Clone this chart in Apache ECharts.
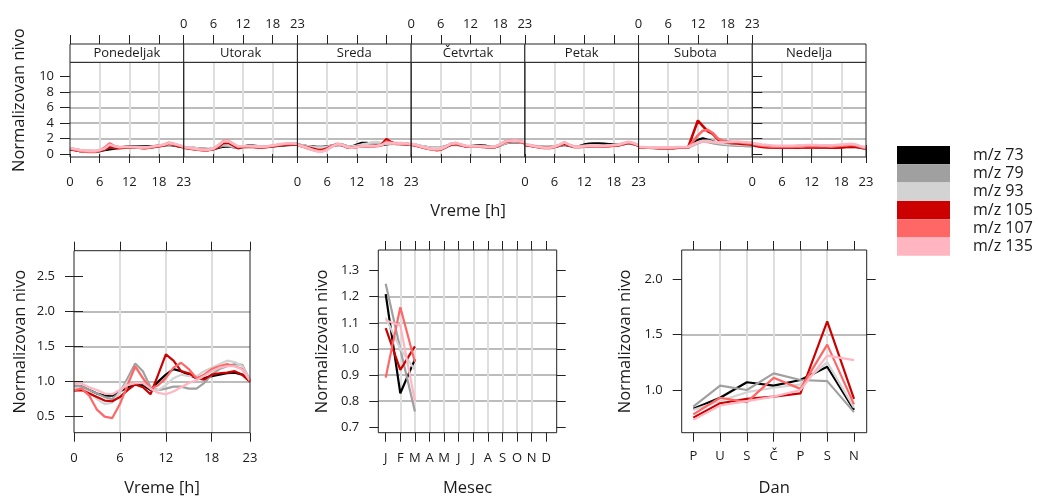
<!DOCTYPE html>
<html><head><meta charset="utf-8">
<script src="https://cdn.jsdelivr.net/npm/echarts@6/dist/echarts.min.js"></script>
<style>html,body{margin:0;padding:0;background:#fff}#c{width:1037px;height:498px}</style>
</head><body><div id="c"></div><script>
// ---------------- DATA ----------------
const seriesNames = ['m/z 73','m/z 79','m/z 93','m/z 105','m/z 107','m/z 135'];
const dayNames = ['Ponedeljak','Utorak','Sreda','Četvrtak','Petak','Subota','Nedelja'];
const hourTicks = [0,6,12,18,23];
const topYTicks = [0,2,4,6,8,10];
const hourYTicks = [0.5,1.0,1.5,2.0,2.5];
const monthLabels = ['J','F','M','A','M','J','J','A','S','O','N','D'];
const monthYTicks = [0.7,0.8,0.9,1.0,1.1,1.2,1.3];
const dayLetters = ['P','U','S','Č','P','S','N'];
const dayYTicks = [1.0,1.5,2.0];

// week x hour (7 days x 24 hours)
const weekHour_mz73 = [
 0.6,0.5,0.4,0.35,0.3,0.3,0.4,0.5,0.6,0.7,0.8,0.9,0.95,1.0,1.0,1.0,0.95,1.0,1.05,1.1,1.2,1.1,1.0,0.9,
 0.85,0.8,0.75,0.7,0.65,0.6,0.65,0.8,0.95,1.0,0.9,0.85,0.95,1.05,1.05,1.0,0.95,0.95,1.0,1.05,1.1,1.15,1.2,1.2,
 1.2,1.1,1.0,0.95,0.9,0.9,0.95,1.05,1.15,1.2,1.0,0.95,1.2,1.4,1.4,1.3,1.2,1.15,1.25,1.35,1.35,1.3,1.3,1.2,
 1.25,1.15,1.0,0.9,0.8,0.75,0.8,1.0,1.2,1.25,1.15,1.0,1.0,1.05,1.1,1.05,0.9,0.9,1.1,1.4,1.5,1.55,1.5,1.4,
 1.2,1.1,1.0,0.95,0.9,0.9,0.95,1.05,1.2,1.05,0.95,1.0,1.2,1.3,1.35,1.35,1.3,1.25,1.2,1.2,1.3,1.4,1.3,1.1,
 0.85,0.85,0.8,0.8,0.8,0.8,0.8,0.8,0.8,0.8,0.85,1.3,1.8,2.0,1.8,1.6,1.45,1.35,1.3,1.25,1.2,1.2,1.15,1.1,
 1.2,1.1,1.0,0.95,0.9,0.9,0.9,0.9,0.85,0.85,0.85,0.9,0.9,0.9,0.85,0.85,0.85,0.9,0.9,0.95,1.0,0.95,0.8,0.75];
const weekHour_mz79 = [
 0.7,0.6,0.5,0.45,0.4,0.35,0.45,0.6,0.9,0.8,0.8,0.85,0.85,0.9,0.9,0.85,0.85,0.9,1.0,1.1,1.2,1.15,1.05,0.9,
 0.9,0.8,0.75,0.7,0.65,0.6,0.7,0.9,1.1,1.05,0.9,0.85,0.9,0.95,0.95,0.9,0.9,0.95,1.0,1.1,1.15,1.2,1.25,1.25,
 1.2,1.1,1.0,0.9,0.85,0.85,0.9,1.05,1.2,1.2,1.0,0.9,1.0,1.1,1.2,1.3,1.4,1.35,1.3,1.3,1.35,1.35,1.3,1.2,
 1.25,1.15,1.0,0.9,0.8,0.75,0.8,0.95,1.15,1.2,1.1,1.0,0.95,0.95,0.95,0.9,0.85,0.9,1.1,1.35,1.5,1.55,1.5,1.4,
 1.2,1.1,1.0,0.95,0.9,0.85,0.95,1.05,1.25,1.1,0.95,0.95,1.0,1.05,1.05,1.05,1.0,1.05,1.1,1.15,1.3,1.4,1.3,1.1,
 0.8,0.8,0.8,0.75,0.75,0.75,0.75,0.75,0.8,0.8,0.8,1.1,1.4,1.6,1.55,1.4,1.3,1.2,1.15,1.1,1.05,1.05,1.0,1.0,
 1.15,1.05,1.0,0.95,0.9,0.85,0.85,0.85,0.8,0.8,0.8,0.8,0.8,0.8,0.8,0.8,0.8,0.85,0.85,0.9,0.95,0.9,0.8,0.7];
const weekHour_mz93 = [
 0.75,0.6,0.5,0.45,0.4,0.4,0.5,0.7,1.0,0.85,0.8,0.85,0.9,0.9,0.9,0.9,0.85,0.9,1.0,1.1,1.25,1.2,1.1,0.95,
 0.9,0.85,0.8,0.7,0.65,0.65,0.75,1.0,1.3,1.2,1.0,0.9,0.95,1.0,1.0,1.0,0.95,1.0,1.05,1.15,1.2,1.25,1.3,1.3,
 1.2,1.1,1.0,0.9,0.8,0.8,0.9,1.05,1.25,1.2,1.0,0.95,1.05,1.2,1.3,1.5,1.55,1.4,1.35,1.4,1.45,1.4,1.35,1.25,
 1.3,1.2,1.05,0.9,0.8,0.75,0.8,1.0,1.25,1.3,1.2,1.05,1.0,1.0,1.0,0.95,0.9,0.95,1.15,1.45,1.6,1.65,1.55,1.45,
 1.25,1.15,1.05,0.95,0.9,0.85,0.95,1.1,1.35,1.15,1.0,1.0,1.05,1.1,1.1,1.1,1.05,1.1,1.15,1.2,1.35,1.45,1.35,1.15,
 0.85,0.85,0.8,0.8,0.8,0.8,0.8,0.8,0.8,0.85,0.85,1.2,1.5,1.7,1.7,1.55,1.45,1.35,1.3,1.25,1.2,1.2,1.15,1.15,
 1.25,1.15,1.05,1.0,0.95,0.95,0.95,0.95,0.95,0.95,0.95,1.0,1.0,1.0,1.0,1.0,1.0,1.0,1.05,1.1,1.1,1.05,0.9,0.8];
const weekHour_mz105 = [
 0.6,0.5,0.4,0.35,0.3,0.3,0.4,0.6,0.9,0.8,0.75,0.8,0.85,0.85,0.8,0.75,0.8,0.9,1.0,1.1,1.3,1.2,1.0,0.85,
 0.8,0.7,0.6,0.55,0.5,0.5,0.6,0.9,1.4,1.45,1.1,0.75,0.9,0.95,0.9,0.85,0.85,0.9,1.0,1.05,1.15,1.2,1.2,1.2,
 1.15,1.0,0.85,0.7,0.55,0.5,0.7,1.0,1.25,1.15,0.85,0.8,0.9,1.0,1.0,1.0,1.05,1.2,1.9,1.5,1.3,1.3,1.25,1.15,
 1.2,1.05,0.9,0.75,0.6,0.5,0.55,0.85,1.2,1.3,1.15,1.0,0.95,0.95,0.95,0.9,0.85,0.9,1.2,1.55,1.65,1.7,1.6,1.4,
 1.15,1.05,0.95,0.85,0.8,0.8,0.9,1.1,1.35,1.1,0.9,0.9,0.95,1.0,1.0,1.0,1.0,1.0,1.05,1.1,1.3,1.45,1.3,1.05,
 0.8,0.8,0.8,0.8,0.75,0.75,0.75,0.75,0.8,0.8,0.8,2.55,4.3,3.6,2.9,2.6,1.9,1.6,1.45,1.4,1.35,1.3,1.25,1.2,
 1.15,1.0,0.9,0.85,0.85,0.8,0.8,0.8,0.8,0.8,0.85,0.85,0.85,0.85,0.85,0.85,0.8,0.8,0.85,0.9,0.95,0.9,0.8,0.7];
const weekHour_mz107 = [
 0.7,0.55,0.4,0.3,0.25,0.25,0.45,0.8,1.35,1.0,0.85,0.9,0.9,0.85,0.8,0.75,0.8,0.95,1.05,1.2,1.45,1.3,1.1,0.9,
 0.85,0.75,0.65,0.55,0.5,0.5,0.65,1.1,1.65,1.7,1.3,0.9,1.0,1.0,0.95,0.9,0.9,0.95,1.05,1.15,1.25,1.3,1.3,1.3,
 1.15,0.95,0.75,0.55,0.4,0.35,0.6,1.0,1.3,1.2,0.85,0.8,0.9,1.0,1.0,0.95,1.0,1.1,1.6,1.4,1.3,1.35,1.3,1.2,
 1.25,1.1,0.9,0.75,0.6,0.55,0.6,0.9,1.3,1.4,1.2,1.0,0.95,0.95,0.95,0.9,0.85,0.9,1.2,1.6,1.7,1.75,1.65,1.45,
 1.2,1.1,0.95,0.85,0.75,0.75,0.9,1.15,1.5,1.15,0.9,0.9,0.95,1.0,1.0,1.0,1.0,1.05,1.1,1.15,1.35,1.55,1.35,1.1,
 0.85,0.85,0.85,0.8,0.8,0.8,0.8,0.8,0.85,0.85,0.85,1.6,2.4,3.0,3.1,2.7,2.0,1.7,1.6,1.55,1.5,1.45,1.4,1.35,
 1.3,1.15,1.05,1.0,0.95,0.9,0.9,0.9,0.9,0.95,0.95,1.0,1.0,1.0,1.0,1.0,0.95,1.0,1.05,1.1,1.2,1.1,0.9,0.75];
const weekHour_mz135 = [
 0.75,0.65,0.5,0.45,0.4,0.4,0.5,0.7,1.2,1.0,0.9,0.9,0.9,0.9,0.85,0.85,0.9,1.0,1.1,1.2,1.4,1.3,1.15,0.95,
 0.9,0.8,0.7,0.6,0.55,0.55,0.7,1.1,1.6,1.65,1.3,1.0,1.0,1.0,1.0,0.95,0.95,1.0,1.1,1.2,1.3,1.35,1.35,1.3,
 1.2,1.0,0.8,0.55,0.35,0.3,0.55,0.95,1.25,1.2,0.9,0.8,0.9,1.0,1.05,1.0,1.05,1.15,1.45,1.4,1.35,1.4,1.35,1.25,
 1.3,1.15,0.95,0.8,0.65,0.6,0.65,0.95,1.3,1.4,1.25,1.05,1.0,1.0,1.0,0.95,0.9,0.95,1.25,1.6,1.7,1.75,1.65,1.5,
 1.25,1.15,1.0,0.9,0.8,0.8,0.95,1.2,1.5,1.2,0.95,0.95,1.0,1.05,1.05,1.05,1.05,1.1,1.15,1.2,1.4,1.55,1.4,1.15,
 0.9,0.9,0.85,0.85,0.85,0.85,0.85,0.85,0.9,0.9,0.9,1.2,1.5,1.6,1.6,1.55,1.5,1.5,1.5,1.55,1.6,1.55,1.5,1.45,
 1.4,1.3,1.2,1.15,1.1,1.05,1.05,1.05,1.05,1.1,1.1,1.15,1.15,1.15,1.1,1.1,1.1,1.15,1.2,1.25,1.3,1.2,1.0,0.85];

// hour of day (0..23)
const hour_mz73  = [0.93,0.93,0.88,0.83,0.80,0.80,0.86,0.92,0.96,0.95,0.88,1.00,1.10,1.18,1.15,1.10,1.05,1.05,1.08,1.10,1.12,1.13,1.10,1.00];
const hour_mz79  = [0.95,0.93,0.88,0.83,0.78,0.75,0.85,1.05,1.26,1.15,0.92,0.88,0.90,0.93,0.93,0.90,0.90,0.98,1.10,1.18,1.22,1.25,1.24,1.02];
const hour_mz93  = [0.92,0.90,0.85,0.75,0.68,0.70,0.85,1.00,1.20,1.05,0.90,0.88,0.95,1.05,1.10,1.08,1.08,1.15,1.20,1.25,1.30,1.28,1.22,1.02];
const hour_mz105 = [0.87,0.88,0.83,0.78,0.73,0.72,0.78,0.88,0.96,0.92,0.82,1.10,1.39,1.30,1.15,1.12,1.05,1.03,1.10,1.12,1.13,1.15,1.10,1.00];
const hour_mz107 = [0.88,0.90,0.80,0.60,0.50,0.48,0.68,0.95,1.22,1.05,0.90,0.95,1.05,1.20,1.27,1.18,1.05,1.10,1.18,1.22,1.25,1.22,1.18,1.00];
const hour_mz135 = [0.97,0.97,0.92,0.88,0.83,0.82,0.88,0.95,0.98,0.98,0.90,0.84,0.82,0.86,0.92,0.98,1.02,1.08,1.15,1.20,1.22,1.22,1.17,1.02];

// month (J, F, M)
const month_mz73  = [1.21,0.83,0.96];
const month_mz79  = [1.25,1.00,0.76];
const month_mz93  = [1.12,1.00,0.92];
const month_mz105 = [1.08,0.92,1.01];
const month_mz107 = [0.89,1.16,0.95];
const month_mz135 = [1.11,1.09,0.80];

// weekday (P U S Č P S N)
const weekday_mz73  = [0.83,0.93,1.07,1.04,1.09,1.21,0.82];
const weekday_mz79  = [0.85,1.04,1.00,1.15,1.09,1.08,0.80];
const weekday_mz93  = [0.82,0.90,0.98,1.02,1.05,1.25,0.84];
const weekday_mz105 = [0.75,0.88,0.92,0.94,0.97,1.62,0.92];
const weekday_mz107 = [0.78,0.93,0.89,1.11,1.01,1.41,0.87];
const weekday_mz135 = [0.73,0.86,0.90,0.94,1.00,1.31,1.27];

// ---------------- STYLE / LAYOUT ----------------
const seriesColors = ['#000000','#a0a0a0','#d3d3d3','#cc0000','#ff6666','#ffb6c1'];
const weekHourAll = [weekHour_mz73,weekHour_mz79,weekHour_mz93,weekHour_mz105,weekHour_mz107,weekHour_mz135];
const hourAll = [hour_mz73,hour_mz79,hour_mz93,hour_mz105,hour_mz107,hour_mz135];
const monthAll = [month_mz73,month_mz79,month_mz93,month_mz105,month_mz107,month_mz135];
const weekdayAll = [weekday_mz73,weekday_mz79,weekday_mz93,weekday_mz105,weekday_mz107,weekday_mz135];

const FONT = "'Open Sans', 'Noto Sans', sans-serif";
const TXT = '#1a1a1a';
const BORDER = '#222222';
const HGRID = '#bcbcbc';
const VGRID = '#dedede';
const TOP_L = 70, TOP_W = 796/7, TOP_T = 62.3, TOP_H = 94.7, STRIP_H = 18.3;

const grids = [], xAxes = [], yAxes = [], series = [], graphics = [];

function addGrid(g){
  grids.push(Object.assign({show:true, borderColor:BORDER, borderWidth:1, backgroundColor:'transparent', z:3, containLabel:false, outerBoundsMode:'none'}, g));
  return grids.length - 1;
}
function axis(o){
  const a = {
    gridIndex:o.grid, type:'value', min:o.min, max:o.max, position:o.pos,
    offset:o.offset||0,
    axisLine:{show:false},
    axisTick:{show:o.ticks!==false, inside:false, length:o.tickLen||9, customValues:o.values, lineStyle:{color:BORDER, width:1}},
    axisLabel:{show:!!o.labels, customValues:o.values, margin:o.margin||16, color:TXT, fontFamily:FONT, fontSize:13,
      formatter:o.formatter||(v=>String(v)), showMinLabel:true, showMaxLabel:true, hideOverlap:false},
    splitLine:{show:!!o.split, showMinLine:false, showMaxLine:false, lineStyle:{color:o.split||HGRID, width:2}},
    name:o.name||'', nameLocation:'middle', nameGap:o.nameGap||30, nameMoveOverlap:false,
    nameTextStyle:Object.assign({color:TXT, fontFamily:FONT, fontSize:16.5}, o.nameStyle||{}),
    silent:true
  };
  return a;
}
function addX(o){ xAxes.push(axis(o)); return xAxes.length-1; }
function addY(o){ yAxes.push(axis(o)); return yAxes.length-1; }
function addLines(xi, yi, dataFor, width){
  seriesNames.forEach((nm, s)=>{
    series.push({type:'line', name:nm, xAxisIndex:xi, yAxisIndex:yi, data:dataFor(s),
      showSymbol:false, symbol:'none', smooth:false, silent:true,
      lineStyle:{color:seriesColors[s], width:width}, itemStyle:{color:seriesColors[s]}, z:2});
  });
}

// ---- Top panel: 7 days ----
dayNames.forEach((dn, i)=>{
  const left = TOP_L + i*TOP_W;
  const g = addGrid({left:left, top:TOP_T, width:TOP_W, height:TOP_H});
  const xb = addX({grid:g, pos:'bottom', min:0, max:23, values:hourTicks, labels:i%2===0, margin:19, split:VGRID,
    name: i===3 ? 'Vreme [h]' : '', nameGap:46});
  addX({grid:g, pos:'top', min:0, max:23, values:hourTicks, labels:i%2===1, margin:13, offset:STRIP_H});
  const yl = addY({grid:g, pos:'left', min:-0.39, max:11.8, values:topYTicks, ticks:i===0, labels:i===0, margin:16, split:HGRID,
    name: i===0 ? 'Normalizovan nivo' : '', nameGap:42, nameStyle:{padding:[0,0,0,19]}, tickLen:10});
  if (i===6) addY({grid:g, pos:'right', min:-0.39, max:11.8, values:topYTicks, tickLen:10});
  addLines(xb, yl, s => weekHourAll[s].slice(i*24, i*24+24).map((v,h)=>[h, v]), 2.6);
  graphics.push({type:'rect', shape:{x:left, y:TOP_T-STRIP_H, width:TOP_W, height:STRIP_H},
    style:{fill:'#fff', stroke:BORDER, lineWidth:1}, z:5, silent:true});
  graphics.push({type:'text', x:left+TOP_W/2, y:TOP_T-STRIP_H/2, z:6, silent:true,
    style:{text:dn, fill:TXT, font:"13px 'Open Sans'", textAlign:'center', textVerticalAlign:'middle'}});
});

// ---- Bottom left: hour ----
{
  const g = addGrid({left:74, top:250.7, width:176, height:182});
  const xb = addX({grid:g, pos:'bottom', min:0, max:23, values:hourTicks, labels:true, margin:19, split:VGRID, name:'Vreme [h]', nameGap:47});
  addX({grid:g, pos:'top', min:0, max:23, values:hourTicks});
  const yl = addY({grid:g, pos:'left', min:0.271, max:2.871, values:hourYTicks, labels:true, margin:19, split:HGRID,
    formatter:v=>v.toFixed(1), name:'Normalizovan nivo', nameGap:45});
  addY({grid:g, pos:'right', min:0.271, max:2.871, values:hourYTicks});
  addLines(xb, yl, s => hourAll[s].map((v,h)=>[h, v]), 2.2);
}
// ---- Bottom middle: month ----
{
  const monthTicks = monthLabels.map((_, i)=>i+1);
  const g = addGrid({left:378.3, top:250, width:178.4, height:182.7});
  const xb = addX({grid:g, pos:'bottom', min:0.493, max:12.71, values:monthTicks, labels:true, margin:19, split:VGRID,
    formatter:v=>monthLabels[Math.round(v)-1], name:'Mesec', nameGap:47});
  addX({grid:g, pos:'top', min:0.493, max:12.71, values:monthTicks});
  const yl = addY({grid:g, pos:'left', min:0.679, max:1.379, values:monthYTicks, labels:true, margin:19, split:HGRID,
    formatter:v=>v.toFixed(1), name:'Normalizovan nivo', nameGap:48});
  addY({grid:g, pos:'right', min:0.679, max:1.379, values:monthYTicks});
  addLines(xb, yl, s => monthAll[s].map((v,m)=>[m+1, v]), 2.2);
}
// ---- Bottom right: weekday ----
{
  const dTicks = dayLetters.map((_, i)=>i+1);
  const g = addGrid({left:681.7, top:250, width:185, height:182.7});
  const xb = addX({grid:g, pos:'bottom', min:0.567, max:7.474, values:dTicks, labels:true, margin:17, split:VGRID,
    formatter:v=>dayLetters[Math.round(v)-1], name:'Dan', nameGap:47});
  addX({grid:g, pos:'top', min:0.567, max:7.474, values:dTicks});
  const yl = addY({grid:g, pos:'left', min:0.614, max:2.265, values:dayYTicks, labels:true, margin:19, split:HGRID,
    formatter:v=>v.toFixed(1), name:'Normalizovan nivo', nameGap:48});
  addY({grid:g, pos:'right', min:0.614, max:2.265, values:dayYTicks});
  addLines(xb, yl, s => weekdayAll[s].map((v,d)=>[d+1, v]), 2.2);
}

const chart = echarts.init(document.getElementById('c'), null, {renderer:'canvas'});
chart.setOption({
  backgroundColor:'#ffffff',
  animation:false,
  textStyle:{fontFamily:FONT},
  grid:grids, xAxis:xAxes, yAxis:yAxes, series:series,
  legend:{orient:'vertical', left:897, top:146, padding:0, itemWidth:53, itemHeight:18.3, itemGap:0, icon:'rect',
    selectedMode:false, data:seriesNames,
    textStyle:{fontFamily:FONT, fontSize:16, color:TXT, padding:[0,0,0,18], lineHeight:18.3}},
  graphic:graphics
});
</script></body></html>
